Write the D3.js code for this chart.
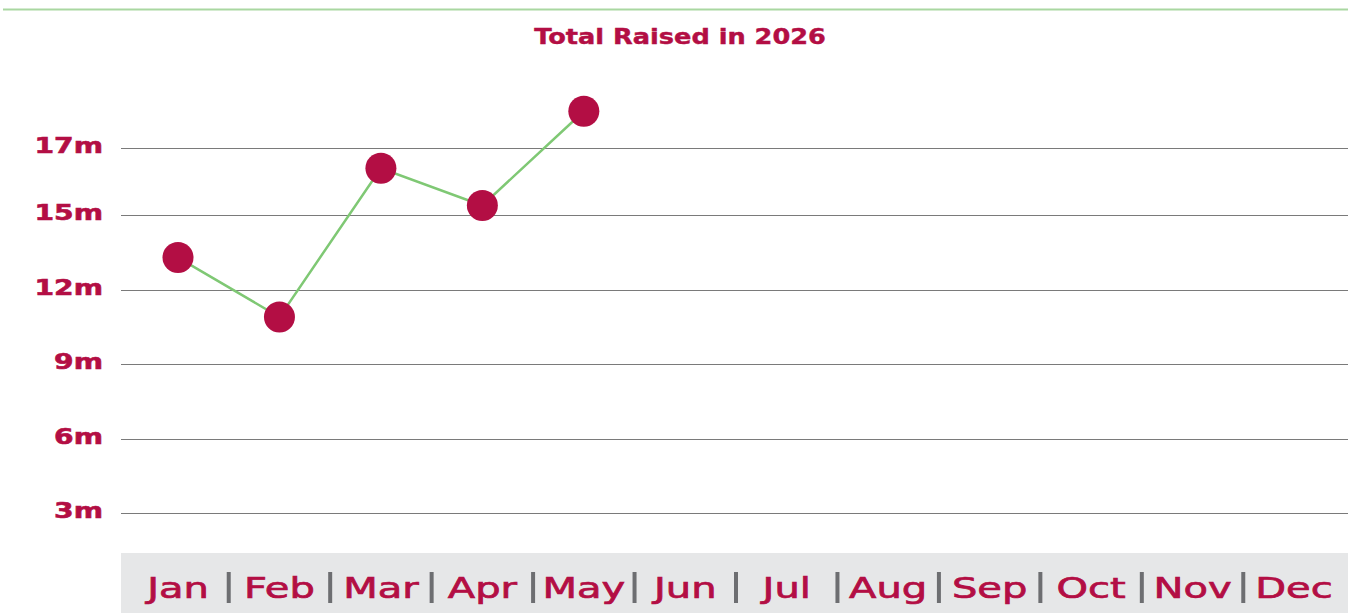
<!DOCTYPE html>
<html>
<head>
<meta charset="utf-8">
<script src="https://cdn.jsdelivr.net/npm/d3@7"></script>
<style>
  body { margin: 0; background: #fff; }
  text { font-family: "DejaVu Sans", sans-serif; }
</style>
</head>
<body>
<script>
const months = ["Jan", "Feb", "Mar", "Apr", "May", "Jun", "Jul", "Aug", "Sep", "Oct", "Nov", "Dec"];
const raised = [13.3, 10.9, 16.9, 15.4, 19.2];   // millions, Jan..May
const yTicks = [3, 6, 9, 12, 15, 17.7];
const yTickLabels = ["3m", "6m", "9m", "12m", "15m", "17m"];
const title = "Total Raised in 2026";

const w = 1348, h = 613;
const crimson = "#b30e44";

const svg = d3.select("body").append("svg")
    .attr("width", w)
    .attr("height", h);

// green rule across the top
svg.append("line")
    .attr("x1", 3).attr("x2", w)
    .attr("y1", 9.5).attr("y2", 9.5)
    .attr("stroke", "#a9d7a1")
    .attr("stroke-width", 2);

svg.append("text")
    .attr("transform", "translate(680,44) scale(1.25,1)")
    .attr("text-anchor", "middle")
    .attr("font-size", 20.5)
    .attr("font-weight", "bold")
    .attr("fill", crimson)
    .attr("stroke", crimson)
    .attr("stroke-width", 0.4)
    .text(title);

const x = d3.scalePoint()
    .domain(months)
    .range([178, 1294]);

const y = d3.scaleLinear()
    .domain([0, 3])
    .range([587.4, 513]);

// gridlines
svg.append("g")
    .selectAll("line")
    .data(yTicks)
    .join("line")
    .attr("x1", 121).attr("x2", w)
    .attr("y1", d => Math.round(y(d)) + 0.5)
    .attr("y2", d => Math.round(y(d)) + 0.5)
    .attr("stroke", "#7a7a7a")
    .attr("stroke-width", 1.2);

// y labels
svg.append("g")
    .selectAll("text")
    .data(yTicks)
    .join("text")
    .attr("transform", d => "translate(103," + (y(d) + 5) + ") scale(1.28,1)")
    .attr("text-anchor", "end")
    .attr("font-size", 22)
    .attr("font-weight", "bold")
    .attr("fill", crimson)
    .attr("stroke", crimson)
    .attr("stroke-width", 0.6)
    .text((d, i) => yTickLabels[i]);

// month band
svg.append("rect")
    .attr("x", 121).attr("y", 553)
    .attr("width", w - 121).attr("height", h - 553)
    .attr("fill", "#e6e7e8");

svg.append("g")
    .selectAll("text")
    .data(months)
    .join("text")
    .attr("transform", d => "translate(" + x(d) + ",598) scale(1.38,1)")
    .attr("text-anchor", "middle")
    .attr("font-size", 29)
    .attr("fill", crimson)
    .attr("stroke", crimson)
    .attr("stroke-width", 0.7)
    .text(d => d);

svg.append("g")
    .selectAll("line")
    .data(months.slice(1))
    .join("line")
    .attr("x1", d => x(d) - x.step() / 2)
    .attr("x2", d => x(d) - x.step() / 2)
    .attr("y1", 572).attr("y2", 603)
    .attr("stroke", "#6d6e71")
    .attr("stroke-width", 4);

const line = d3.line()
    .x((d, i) => x(months[i]))
    .y(d => y(d));

svg.append("path")
    .datum(raised)
    .attr("d", line)
    .attr("fill", "none")
    .attr("stroke", "#7fc874")
    .attr("stroke-width", 2.5);

svg.append("g")
    .selectAll("circle")
    .data(raised)
    .join("circle")
    .attr("cx", (d, i) => x(months[i]))
    .attr("cy", d => y(d))
    .attr("r", 15.5)
    .attr("fill", crimson);
</script>
</body>
</html>
